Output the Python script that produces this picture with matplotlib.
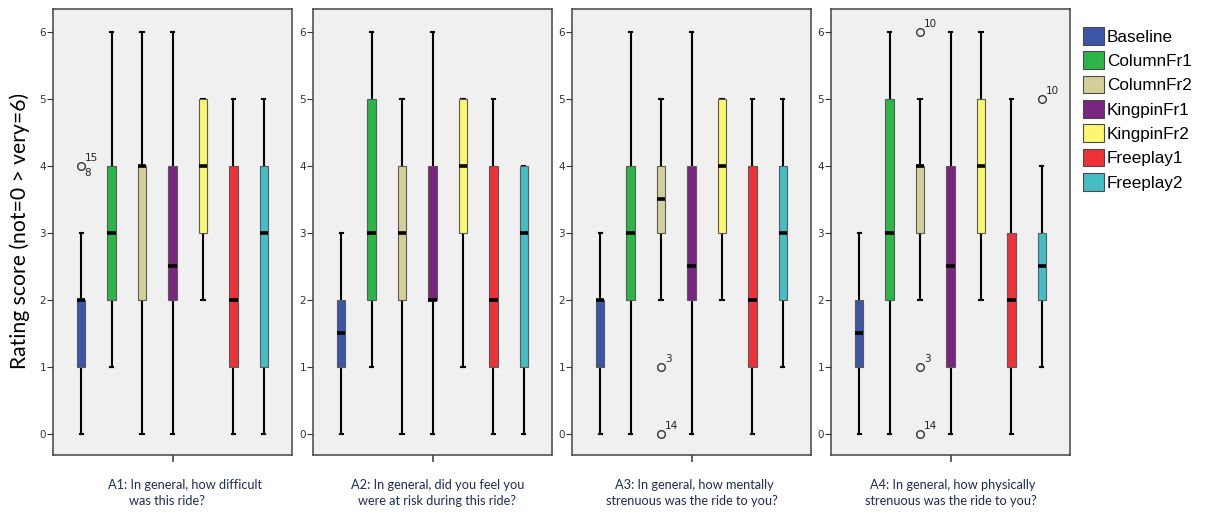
#!/usr/bin/env python3
"""Rating score boxplots (SPSS style) for four ride questions, seven conditions each."""

import matplotlib
matplotlib.use('Agg')
import matplotlib.pyplot as plt
from matplotlib.patches import Patch

# Conditions, in drawing order
GROUPS = ['Baseline', 'ColumnFr1', 'ColumnFr2', 'KingpinFr1',
          'KingpinFr2', 'Freeplay1', 'Freeplay2']
COLORS = ['#3B56A6', '#2DB648', '#D4CF98', '#7A2580',
          '#FBF76E', '#EE3137', '#44BEC4']

# Five-number summaries per condition: (whisker low, Q1, median, Q3, whisker high)
A1_STATS = [(0, 1, 2, 2, 3), (1, 2, 3, 4, 6), (0, 2, 4, 4, 6), (0, 2, 2.5, 4, 6),
            (2, 3, 4, 5, 5), (0, 1, 2, 4, 5), (0, 1, 3, 4, 5)]
A2_STATS = [(0, 1, 1.5, 2, 3), (1, 2, 3, 5, 6), (0, 2, 3, 4, 5), (0, 2, 2, 4, 6),
            (1, 3, 4, 5, 5), (0, 1, 2, 4, 5), (0, 1, 3, 4, 4)]
A3_STATS = [(0, 1, 2, 2, 3), (0, 2, 3, 4, 6), (2, 3, 3.5, 4, 5), (0, 2, 2.5, 4, 6),
            (2, 3, 4, 5, 5), (0, 1, 2, 4, 5), (1, 2, 3, 4, 5)]
A4_STATS = [(0, 1, 1.5, 2, 3), (0, 2, 3, 5, 6), (2, 3, 4, 4, 5), (0, 1, 2.5, 4, 6),
            (2, 3, 4, 5, 6), (0, 1, 2, 3, 5), (1, 2, 2.5, 3, 4)]

# Outliers: (panel, condition index, value, case label(s))
OUTLIERS = [
    (0, 0, 4, '15', '8'),
    (2, 2, 1, '3', None),
    (2, 2, 0, '14', None),
    (3, 2, 6, '10', None),
    (3, 2, 1, '3', None),
    (3, 2, 0, '14', None),
    (3, 6, 5, '10', None),
]

QUESTIONS = [
    ('A1: In general, how difficult', 'was this ride?'),
    ('A2: In general, did you feel you', 'were at risk during this ride?'),
    ('A3: In general, how mentally', 'strenuous was the ride to you?'),
    ('A4: In general, how physically', 'strenuous was the ride to you?'),
]

YTICKS = [0, 1, 2, 3, 4, 5, 6]
Y_LABEL = 'Rating score (not=0 > very=6)'

# Layout (pixels of a 1208x513 figure)
FIG_W, FIG_H = 1208, 513
PANEL_LEFT = [53, 313, 572, 831]
PANEL_W = 239
PANEL_TOP, PANEL_BOTTOM = 9, 455
# horizontal centres (axes fraction) of the two label lines per panel
LINE_X = [(0.552, 0.477), (0.52, 0.52), (0.51, 0.50), (0.51, 0.50)]

LABEL_FONT = ['Lato', 'DejaVu Sans']
TEXT_COLOR = '#1F2B55'


def make_stats(rows):
    return [dict(whislo=r[0], q1=r[1], med=r[2], q3=r[3], whishi=r[4], fliers=[])
            for r in rows]


def main():
    fig = plt.figure(figsize=(FIG_W / 100, FIG_H / 100), dpi=100)
    fig.patch.set_facecolor('white')

    all_stats = [A1_STATS, A2_STATS, A3_STATS, A4_STATS]
    positions = list(range(1, len(GROUPS) + 1))
    axes = []

    for i, rows in enumerate(all_stats):
        rect = [PANEL_LEFT[i] / FIG_W, 1 - PANEL_BOTTOM / FIG_H,
                PANEL_W / FIG_W, (PANEL_BOTTOM - PANEL_TOP) / FIG_H]
        ax = fig.add_axes(rect)
        ax.set_facecolor('#F0F0F0')
        axes.append(ax)

        bp = ax.bxp(make_stats(rows), positions=positions, widths=0.28,
                    capwidths=0.1, patch_artist=True, showfliers=False,
                    boxprops=dict(linewidth=0.8, edgecolor='#5A5A5A'),
                    whiskerprops=dict(linewidth=1.5, color='black'),
                    capprops=dict(linewidth=1.5, color='black'),
                    medianprops=dict(linewidth=2.6, color='black',
                                     solid_capstyle='butt'))
        for patch, color in zip(bp['boxes'], COLORS):
            patch.set_facecolor(color)
            patch.set_zorder(3)
        for line in bp['medians']:
            line.set_zorder(4)

        ax.set_xlim(0.08, 7.92)
        ax.set_ylim(-0.32, 6.34)
        ax.set_yticks(YTICKS)
        ax.set_yticklabels([str(t) for t in YTICKS])
        ax.tick_params(axis='y', length=4, width=0.8, color='#333333',
                       labelsize=7.5, labelcolor='#333333', pad=1)
        ax.set_xticks([4])
        ax.set_xticklabels([''])
        ax.tick_params(axis='x', length=5, width=1.2, color='#444444')
        for spine in ax.spines.values():
            spine.set_edgecolor('#444444')
            spine.set_linewidth(1.1)

        line1, line2 = QUESTIONS[i]
        x1, x2 = LINE_X[i]
        ax.text(x1, -0.068, line1, transform=ax.transAxes, ha='center', va='center',
                fontsize=9.2, color=TEXT_COLOR, family=LABEL_FONT)
        ax.text(x2, -0.104, line2, transform=ax.transAxes, ha='center', va='center',
                fontsize=9.2, color=TEXT_COLOR, family=LABEL_FONT)

    # outliers with case labels
    for panel, grp, value, lab_up, lab_down in OUTLIERS:
        ax = axes[panel]
        x = positions[grp]
        ax.plot([x], [value], marker='o', markersize=5.5, markerfacecolor='none',
                markeredgecolor='#333333', markeredgewidth=1.0, zorder=5)
        ax.annotate(lab_up, (x, value), xytext=(3, 2), textcoords='offset points',
                    ha='left', va='bottom', fontsize=7.5, color='#222222')
        if lab_down:
            ax.annotate(lab_down, (x, value), xytext=(2, -2), textcoords='offset points',
                        ha='left', va='top', fontsize=7.5, color='#222222')

    fig.text(20 / FIG_W, 1 - 231 / FIG_H, Y_LABEL, rotation=90, ha='center', va='center',
             fontsize=15.2, color='black', family=LABEL_FONT)

    handles = [Patch(facecolor=c, edgecolor='#4A4A4A', linewidth=0.8) for c in COLORS]
    fig.legend(handles, GROUPS, loc='upper left',
               bbox_to_anchor=(1083 / FIG_W, 1 - 27 / FIG_H),
               frameon=False, handlelength=1.2, handleheight=1.2,
               handletextpad=0.2, labelspacing=0.4, borderaxespad=0, borderpad=0,
               prop={'family': ['Liberation Sans', 'DejaVu Sans'], 'size': 12.3})

    fig.savefig('out.png', dpi=100)
    plt.close(fig)


if __name__ == '__main__':
    main()
